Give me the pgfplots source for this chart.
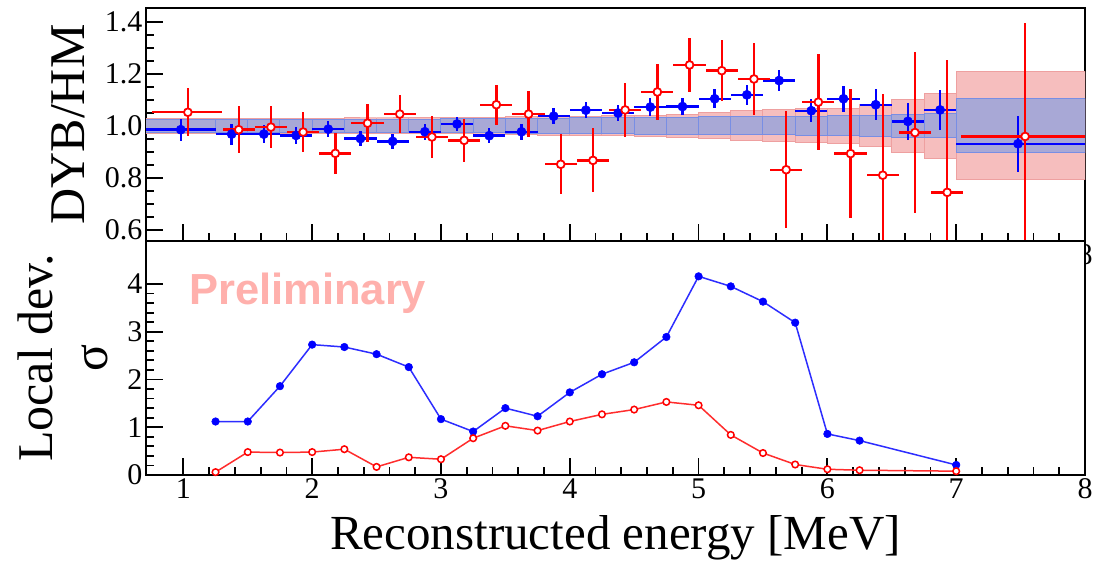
\documentclass[border=0pt]{standalone}
\usepackage{fontspec}
\setmainfont{Liberation Serif}
\newfontfamily\tickfont{Liberation Serif}
\newfontfamily\prelimfont{Liberation Sans}
\usepackage{pgfplots}
\pgfplotsset{compat=1.18}

\definecolor{ptblue}{RGB}{0,0,255}
\definecolor{ptred}{RGB}{255,0,0}
\definecolor{bandred}{RGB}{246,190,190}
\definecolor{bandredline}{RGB}{238,160,160}
\definecolor{bandblue}{RGB}{168,168,214}
\definecolor{bandblueline}{RGB}{120,142,228}
\definecolor{lineblue}{RGB}{45,45,255}
\definecolor{linered}{RGB}{255,45,45}
\definecolor{prelim}{RGB}{255,176,172}

\pgfplotsset{
  rootframe/.style={
    scale only axis, width=939pt,
    xmin=0.71, xmax=8,
    xtick={1,2,3,4,5,6,7,8}, xticklabels={1,2,3,4,5,6,7,8},
    minor x tick num=4,
    tick pos=left, tick align=inside,
    major tick length=17pt, minor tick length=8pt,
    tick style={line width=1.8pt, black},
    axis line style={line width=2.8pt},
    tick label style={font={\fontsize{30}{30}\tickfont\selectfont}},
    label style={font=\fontsize{50}{55}\rmfamily\selectfont},
  },
  bluepts/.style={
    draw=none, mark=*, mark size=4.6pt,
    mark options={fill=ptblue, draw=ptblue, line width=0.5pt},
    error bars/.cd, x dir=both, x explicit, y dir=both, y explicit,
    error mark=none, error bar style={line width=2.4pt, draw=ptblue},
  },
  redpts/.style={
    draw=none, mark=*, mark size=3.9pt,
    mark options={fill=white, draw=ptred, line width=1.8pt},
    error bars/.cd, x dir=both, x explicit, y dir=both, y explicit,
    error mark=none, error bar style={line width=2.4pt, draw=ptred},
  },
  binedges/.style={
    draw=none, mark=none,
    error bars/.cd, y dir=both, y explicit,
    error mark=none, error bar style={line width=1pt, draw=#1},
  },
}

\begin{document}
\begin{tikzpicture}
\useasboundingbox (0,0) rectangle (1103pt,-564pt);

% ---------------- ratio panel ----------------
\begin{axis}[rootframe, height=233pt,
  at={(146pt,-8pt)}, anchor=north west,
  ymin=0.557, ymax=1.453,
  ytick={0.6,0.8,1.0,1.2,1.4}, yticklabels={0.6,0.8,1.0,1.2,1.4},
  minor y tick num=3,
  ylabel={DYB/HM},
  ylabel style={at={(axis description cs:-0.065,0.5)}, anchor=base, inner sep=0pt},
]
% uncertainty band (wide)
\addplot[const plot mark left, fill=bandred, draw=bandredline, line width=1pt] table {
x y
0.70 1.028
1.25 1.028
1.50 1.028
1.75 1.028
2.00 1.029
2.25 1.030
2.50 1.030
2.75 1.031
3.00 1.031
3.25 1.032
3.50 1.034
3.75 1.036
4.00 1.037
4.25 1.038
4.50 1.041
4.75 1.045
5.00 1.050
5.25 1.057
5.50 1.062
5.75 1.066
6.00 1.068
6.25 1.080
6.50 1.102
6.75 1.126
7.00 1.208
8.00 1.208
8.00 0.792
7.00 0.874
6.75 0.898
6.50 0.920
6.25 0.932
6.00 0.934
5.75 0.938
5.50 0.943
5.25 0.950
5.00 0.955
4.75 0.959
4.50 0.962
4.25 0.963
4.00 0.964
3.75 0.966
3.50 0.968
3.25 0.969
3.00 0.969
2.75 0.970
2.50 0.970
2.25 0.971
2.00 0.972
1.75 0.972
1.50 0.972
1.25 0.972
0.70 0.972
} -- cycle;
\addplot[binedges=bandredline] coordinates {
(1.25,1) +- (0,0.028) (1.50,1) +- (0,0.028) (1.75,1) +- (0,0.028)
(2.00,1) +- (0,0.029) (2.25,1) +- (0,0.030) (2.50,1) +- (0,0.030)
(2.75,1) +- (0,0.031) (3.00,1) +- (0,0.031) (3.25,1) +- (0,0.032)
(3.50,1) +- (0,0.034) (3.75,1) +- (0,0.036) (4.00,1) +- (0,0.037)
(4.25,1) +- (0,0.038) (4.50,1) +- (0,0.041) (4.75,1) +- (0,0.045)
(5.00,1) +- (0,0.050) (5.25,1) +- (0,0.057) (5.50,1) +- (0,0.062)
(5.75,1) +- (0,0.066) (6.00,1) +- (0,0.068) (6.25,1) +- (0,0.080)
(6.50,1) +- (0,0.102) (6.75,1) +- (0,0.126) (7.00,1) +- (0,0.208)
};
% uncertainty band (narrow)
\addplot[const plot mark left, fill=bandblue, draw=bandblueline, line width=1pt] table {
x y
0.70 1.024
1.25 1.024
1.50 1.024
1.75 1.024
2.00 1.025
2.25 1.025
2.50 1.026
2.75 1.026
3.00 1.027
3.25 1.027
3.50 1.028
3.75 1.029
4.00 1.030
4.25 1.031
4.50 1.032
4.75 1.033
5.00 1.034
5.25 1.034
5.50 1.035
5.75 1.036
6.00 1.038
6.25 1.040
6.50 1.045
6.75 1.046
7.00 1.104
8.00 1.104
8.00 0.896
7.00 0.954
6.75 0.955
6.50 0.960
6.25 0.962
6.00 0.964
5.75 0.965
5.50 0.966
5.25 0.966
5.00 0.967
4.75 0.968
4.50 0.969
4.25 0.970
4.00 0.971
3.75 0.972
3.50 0.973
3.25 0.973
3.00 0.974
2.75 0.974
2.50 0.975
2.25 0.975
2.00 0.976
1.75 0.976
1.50 0.976
1.25 0.976
0.70 0.976
} -- cycle;
\addplot[binedges=bandblueline] coordinates {
(1.25,1) +- (0,0.024) (1.50,1) +- (0,0.024) (1.75,1) +- (0,0.024)
(2.00,1) +- (0,0.025) (2.25,1) +- (0,0.025) (2.50,1) +- (0,0.026)
(2.75,1) +- (0,0.026) (3.00,1) +- (0,0.027) (3.25,1) +- (0,0.027)
(3.50,1) +- (0,0.028) (3.75,1) +- (0,0.029) (4.00,1) +- (0,0.030)
(4.25,1) +- (0,0.031) (4.50,1) +- (0,0.032) (4.75,1) +- (0,0.033)
(5.00,1) +- (0,0.034) (5.25,1) +- (0,0.034) (5.50,1) +- (0,0.035)
(5.75,1) +- (0,0.036) (6.00,1) +- (0,0.038) (6.25,1) +- (0,0.040)
(6.50,1) +- (0,0.045) (6.75,1) +- (0,0.046) (7.00,1) +- (0,0.104)
};
% DYB/HM ratio, first set
\addplot[bluepts] coordinates {
(0.98,0.985) += (0.27,0.043) -= (0.28,0.043)
(1.375,0.968) +- (0.125,0.040)
(1.625,0.968) +- (0.125,0.035)
(1.875,0.963) +- (0.125,0.032)
(2.125,0.987) +- (0.125,0.030)
(2.375,0.951) +- (0.125,0.030)
(2.625,0.940) +- (0.125,0.030)
(2.875,0.977) +- (0.125,0.030)
(3.125,1.007) +- (0.125,0.028)
(3.375,0.962) +- (0.125,0.030)
(3.625,0.977) +- (0.125,0.030)
(3.875,1.037) +- (0.125,0.031)
(4.125,1.060) +- (0.125,0.031)
(4.375,1.049) +- (0.125,0.032)
(4.625,1.072) +- (0.125,0.033)
(4.875,1.074) +- (0.125,0.034)
(5.125,1.104) +- (0.125,0.036)
(5.375,1.119) +- (0.125,0.038)
(5.625,1.174) +- (0.125,0.040)
(5.875,1.058) +- (0.125,0.045)
(6.125,1.104) +- (0.125,0.050)
(6.375,1.081) +- (0.125,0.060)
(6.625,1.017) +- (0.125,0.072)
(6.875,1.061) +- (0.125,0.078)
(7.48,0.931) += (0.52,0.107) -= (0.48,0.107)
};
% DYB/HM ratio, second set
\addplot[redpts] coordinates {
(1.035,1.052) += (0.265,0.093) -= (0.275,0.093)
(1.43,0.985) +- (0.125,0.090)
(1.68,0.995) +- (0.125,0.081)
(1.93,0.976) +- (0.125,0.077)
(2.18,0.894) +- (0.125,0.079)
(2.43,1.010) +- (0.125,0.074)
(2.68,1.045) +- (0.125,0.072)
(2.93,0.957) +- (0.125,0.079)
(3.18,0.944) +- (0.125,0.083)
(3.43,1.081) +- (0.125,0.077)
(3.68,1.045) +- (0.125,0.088)
(3.93,0.852) +- (0.125,0.115)
(4.18,0.867) +- (0.125,0.123)
(4.43,1.061) +- (0.125,0.105)
(4.68,1.130) +- (0.125,0.107)
(4.93,1.234) +- (0.125,0.105)
(5.18,1.212) +- (0.125,0.118)
(5.43,1.180) +- (0.125,0.140)
(5.68,0.831) +- (0.125,0.225)
(5.93,1.091) +- (0.125,0.184)
(6.18,0.893) +- (0.125,0.247)
(6.43,0.810) +- (0.125,0.312)
(6.68,0.974) +- (0.125,0.309)
(6.93,0.744) +- (0.125,0.509)
(7.535,0.959) += (0.465,0.437) -= (0.495,0.437)
};
\end{axis}

% ---------------- local deviation panel ----------------
\begin{axis}[rootframe, height=234pt,
  at={(146pt,-241pt)}, anchor=north west,
  axis background/.style={fill=white},
  ymin=0, ymax=4.9,
  ytick={0,1,2,3,4}, yticklabels={0,1,2,3,4},
  minor y tick num=4,
  xlabel={Reconstructed energy [MeV]},
  xlabel style={at={(axis description cs:0.5,-0.3205)}, anchor=base, inner sep=0pt,
                font=\fontsize{49}{49}\rmfamily\selectfont},
  ylabel={Local dev.\\σ},
  ylabel style={align=center, at={(axis description cs:-0.0401,0.5)}, anchor=south, inner sep=0pt},
]
\node[anchor=base west, inner sep=0pt, text=prelim,
      font={\fontsize{43.5}{43.5}\prelimfont\bfseries\selectfont}]
  at (axis description cs:0.0458,0.7265) {Preliminary};
\addplot[color=lineblue, line width=1.5pt, mark=*, mark size=3.8pt,
  mark options={fill=ptblue, draw=ptblue, line width=0.5pt}] coordinates {
(1.25,1.12) (1.5,1.12) (1.75,1.86) (2.0,2.73) (2.25,2.68) (2.5,2.53)
(2.75,2.26) (3.0,1.17) (3.25,0.91) (3.5,1.40) (3.75,1.23) (4.0,1.73)
(4.25,2.11) (4.5,2.36) (4.75,2.89) (5.0,4.16) (5.25,3.95) (5.5,3.63)
(5.75,3.19) (6.0,0.86) (6.25,0.72) (7.0,0.21)
};
\addplot[color=linered, line width=1.5pt, mark=*, mark size=3.3pt,
  mark options={fill=white, draw=ptred, line width=1.5pt}] coordinates {
(1.25,0.06) (1.5,0.48) (1.75,0.47) (2.0,0.48) (2.25,0.54) (2.5,0.17)
(2.75,0.37) (3.0,0.33) (3.25,0.77) (3.5,1.03) (3.75,0.93) (4.0,1.12)
(4.25,1.27) (4.5,1.37) (4.75,1.53) (5.0,1.46) (5.25,0.84) (5.5,0.46)
(5.75,0.22) (6.0,0.12) (6.25,0.10) (7.0,0.08)
};
\end{axis}
\end{tikzpicture}
\end{document}
